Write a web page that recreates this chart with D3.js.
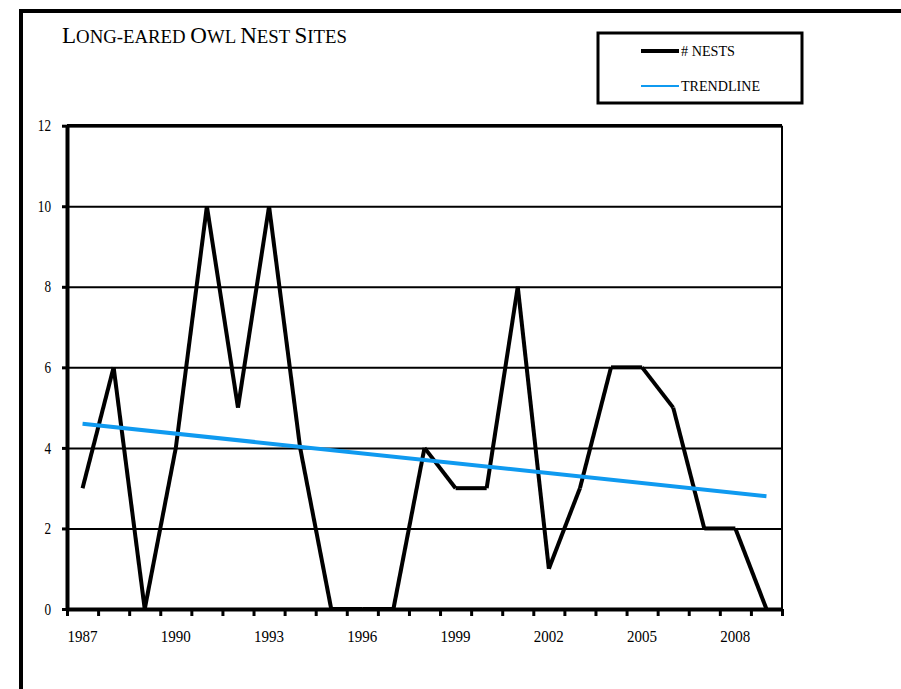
<!DOCTYPE html>
<html>
<head>
<meta charset="utf-8">
<script src="https://cdn.jsdelivr.net/npm/d3@7"></script>
<style>
  body { margin: 0; background: #fff; }
  text { font-family: "Liberation Serif", "Times New Roman", serif; fill: #000; }
</style>
</head>
<body>
<div id="chart"></div>
<script>
const years = [1987, 1988, 1989, 1990, 1991, 1992, 1993, 1994, 1995, 1996, 1997, 1998,
               1999, 2000, 2001, 2002, 2003, 2004, 2005, 2006, 2007, 2008, 2009];
const nests = [3, 6, 0, 4, 10, 5, 10, 4, 0, 0, 0, 4, 3, 3, 8, 1, 3, 6, 6, 5, 2, 2, 0];
// trendline ends
const trendYears = [1987, 2009];
const trendValues = [4.6, 2.8];
const yTicks = [0, 2, 4, 6, 8, 10, 12];
const yearLabels = [1987, 1990, 1993, 1996, 1999, 2002, 2005, 2008];
// title in small caps: [text, isCapital]
const titleParts = [["L", 1], ["ONG-EARED ", 0], ["O", 1], ["WL ", 0], ["N", 1], ["EST ", 0], ["S", 1], ["ITES", 0]];

const blue = "#0f9af0";
const W = 901, H = 689;
const margin = { top: 125.7, right: 119, bottom: 80, left: 67 };
const width = W - margin.left - margin.right;
const height = 609 - margin.top;

const svg = d3.select("#chart").append("svg")
  .attr("width", W)
  .attr("height", H);

// outer frame (runs off the right and bottom edges)
svg.append("rect")
  .attr("x", 21).attr("y", 11)
  .attr("width", 1000).attr("height", 1000)
  .attr("fill", "none").attr("stroke", "#000").attr("stroke-width", 4);

svg.append("text")
  .attr("x", 62).attr("y", 42.5)
  .selectAll("tspan")
  .data(titleParts)
  .join("tspan")
  .attr("font-size", d => d[1] ? 23 : 18.8)
  .style("white-space", "pre")
  .text(d => d[0]);

// legend
const leg = svg.append("g");
leg.append("rect")
  .attr("x", 598).attr("y", 33).attr("width", 204).attr("height", 70)
  .attr("fill", "#fff").attr("stroke", "#000").attr("stroke-width", 3);
leg.append("line").attr("x1", 641).attr("x2", 679).attr("y1", 51).attr("y2", 51)
  .attr("stroke", "#000").attr("stroke-width", 4);
leg.append("text").attr("x", 681).attr("y", 56).attr("font-size", 14)
  .attr("textLength", 54).attr("lengthAdjust", "spacingAndGlyphs")
  .text("# NESTS");
leg.append("line").attr("x1", 641).attr("x2", 679).attr("y1", 86).attr("y2", 86)
  .attr("stroke", blue).attr("stroke-width", 2);
leg.append("text").attr("x", 681).attr("y", 91).attr("font-size", 14)
  .attr("textLength", 79).attr("lengthAdjust", "spacingAndGlyphs")
  .text("TRENDLINE");

const g = svg.append("g")
  .attr("transform", `translate(${margin.left}, ${margin.top})`);

const x = d3.scaleBand().domain(years).range([0, width]).padding(0);
const xi = d3.scaleLinear().domain([0, years.length]).range([0, width]);
const y = d3.scaleLinear().domain([0, 12]).range([height, 0]);
const cx = d => x(d) + x.bandwidth() / 2;

// gridlines
g.append("g")
  .call(d3.axisLeft(y).tickValues(yTicks.slice(1)).tickSize(-width).tickFormat(""))
  .call(a => a.select(".domain").remove())
  .call(a => a.selectAll("line").attr("stroke", "#000").attr("stroke-width", 2));

// plot border: thick top, thin right
g.append("line").attr("x1", 0).attr("x2", width).attr("y1", 0).attr("y2", 0)
  .attr("stroke", "#000").attr("stroke-width", 3.5);
g.append("line").attr("x1", width).attr("x2", width).attr("y1", 0).attr("y2", height)
  .attr("stroke", "#000").attr("stroke-width", 2);

// y axis
g.append("g")
  .call(d3.axisLeft(y).tickValues(yTicks).tickSize(5).tickSizeOuter(0).tickPadding(11))
  .call(a => a.select(".domain").attr("stroke-width", 4))
  .call(a => a.selectAll(".tick line").attr("stroke-width", 3))
  .call(a => a.selectAll("text")
    .style("font-family", "Liberation Serif").attr("font-size", 16)
    .attr("textLength", d => String(d).length * 6.6).attr("lengthAdjust", "spacingAndGlyphs"));

// x axis: ticks on category boundaries
g.append("g")
  .attr("transform", `translate(0, ${height})`)
  .call(d3.axisBottom(xi).tickValues(d3.range(years.length + 1)).tickSize(7).tickSizeOuter(0).tickFormat(""))
  .call(a => a.select(".domain").attr("stroke-width", 4))
  .call(a => a.selectAll(".tick line").attr("stroke-width", 3));

g.append("g")
  .attr("transform", `translate(0, ${height})`)
  .call(d3.axisBottom(x).tickValues(yearLabels).tickSize(0).tickPadding(21))
  .call(a => a.select(".domain").remove())
  .call(a => a.selectAll("text")
    .style("font-family", "Liberation Serif").attr("font-size", 17)
    .attr("textLength", 30).attr("lengthAdjust", "spacingAndGlyphs"));

// # nests line, drawn segment by segment with butt ends
const pts = years.map((yr, i) => [cx(yr), y(nests[i])]);
g.append("g").selectAll("line")
  .data(d3.pairs(pts))
  .join("line")
  .attr("x1", d => d[0][0]).attr("y1", d => d[0][1])
  .attr("x2", d => d[1][0]).attr("y2", d => d[1][1])
  .attr("stroke", "#000").attr("stroke-width", 4).attr("stroke-linecap", "butt");

// trendline
g.append("path")
  .datum(trendYears.map((yr, i) => [cx(yr), y(trendValues[i])]))
  .attr("d", d3.line())
  .attr("fill", "none").attr("stroke", blue).attr("stroke-width", 4);
</script>
</body>
</html>
